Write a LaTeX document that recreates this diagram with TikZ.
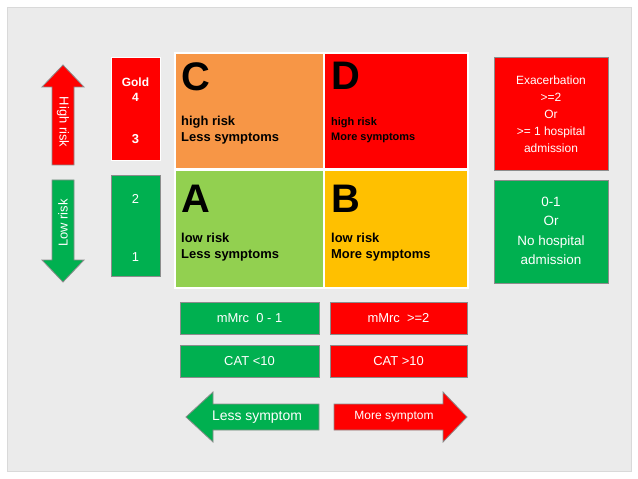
\documentclass[tikz,border=0pt]{standalone}
\usepackage{fontspec}
\setmainfont{Liberation Sans}
\begin{document}
\begin{tikzpicture}[x=1bp,y=-1bp,
  wt/.style={text=white,font=\fontsize{13}{15}\selectfont},
  big/.style={font=\bfseries\fontsize{40}{40}\selectfont,anchor=north west,inner sep=0},
  sub/.style={font=\bfseries\fontsize{13}{16}\selectfont,anchor=north west,inner sep=0,align=left},
  arr/.style={draw=black!45,line width=0.8bp}]
\definecolor{bg}{HTML}{EBEBEB}\definecolor{rd}{HTML}{FF0000}\definecolor{gr}{HTML}{00B050}
\definecolor{org}{HTML}{F79646}\definecolor{lg}{HTML}{92D050}\definecolor{yl}{HTML}{FFC000}
\useasboundingbox (0,0) rectangle (638,479);
\fill[white] (0,0) rectangle (638,479);
\fill[bg,draw=black!15] (7,7) rectangle (631,471);
% vertical arrows
\draw[arr,fill=rd] (63,65) -- (84,87) -- (74,87) -- (74,165) -- (52,165) -- (52,87) -- (42,87) -- cycle;
\node[wt,rotate=-90] (hr) at (63,122) {High risk};
\draw[arr,fill=gr] (63,282) -- (84,260) -- (74,260) -- (74,180) -- (52,180) -- (52,260) -- (42,260) -- cycle;
\node[wt,rotate=90] (lr) at (63,223) {Low risk};
% gold boxes
\filldraw[draw=white,fill=rd] (111,57) rectangle (160,160);
\node[wt,align=center,font=\bfseries\fontsize{12}{15}\selectfont] (g4) at (135.5,90) {Gold\\4};
\node[wt,font=\bfseries\fontsize{13}{15}\selectfont] (g3) at (135.5,139) {3};
\filldraw[draw=black!45,fill=gr] (111,175) rectangle (160,276);
\node[wt] (g2) at (135.5,199) {2};
\node[wt] (g1) at (135.5,257) {1};
% grid
\fill[white] (174,52) rectangle (469,289);
\fill[org] (176,54) rectangle (323,168);
\fill[rd] (325,54) rectangle (467,168);
\fill[lg] (176,171) rectangle (323,287);
\fill[yl] (325,171) rectangle (467,287);
\node[big] (C) at (181,62) {C};
\node[sub] (Ct) at (181,116) {high risk\\Less symptoms};
\node[big] (D) at (331,62) {D};
\node[sub,font=\bfseries\fontsize{11}{15}\selectfont] (Dt) at (331,117) {high risk\\More symptoms};
\node[big] (A) at (181,185) {A};
\node[sub] (At) at (181,233) {low risk\\Less symptoms};
\node[big] (B) at (331,185) {B};
\node[sub] (Bt) at (331,233) {low risk\\More symptoms};
% right boxes
\filldraw[draw=black!45,fill=rd] (494,57) rectangle (608,170);
\node[wt,align=center,font=\fontsize{12}{17}\selectfont] (ex) at (551,114) {Exacerbation\\>=2\\Or\\>= 1 hospital\\admission};
\filldraw[draw=black!45,fill=gr] (494,180) rectangle (608,283);
\node[wt,align=center,font=\fontsize{13.5}{19.5}\selectfont] (nh) at (551,231) {0-1\\Or\\No hospital\\admission};
% symptom boxes
\filldraw[draw=black!45,fill=gr] (180,302) rectangle (319,334);
\node[wt] (m1) at (249.5,318) {mMrc\ \ 0 - 1};
\filldraw[draw=black!45,fill=rd] (330,302) rectangle (467,334);
\node[wt] (m2) at (398.5,318) {mMrc\ \ >=2};
\filldraw[draw=black!45,fill=gr] (180,345) rectangle (319,377);
\node[wt] (c1) at (249.5,361) {CAT <10};
\filldraw[draw=black!45,fill=rd] (330,345) rectangle (467,377);
\node[wt] (c2) at (398.5,361) {CAT >10};
% horizontal arrows
\draw[arr,fill=gr] (186,417) -- (213,392) -- (213,404) -- (319,404) -- (319,430) -- (213,430) -- (213,442) -- cycle;
\node[wt,font=\fontsize{14}{16}\selectfont] (ls) at (257,417) {Less symptom};
\draw[arr,fill=rd] (467,417) -- (443,392) -- (443,404) -- (334,404) -- (334,430) -- (443,430) -- (443,442) -- cycle;
\node[wt,font=\fontsize{12}{14}\selectfont] (ms) at (394,417) {More symptom};
\end{tikzpicture}
\end{document}
